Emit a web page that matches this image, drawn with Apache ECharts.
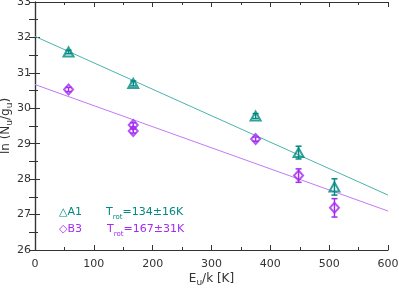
<!DOCTYPE html>
<html><head><meta charset="utf-8">
<script src="https://cdn.jsdelivr.net/npm/echarts@6/dist/echarts.min.js"></script>
<style>html,body{margin:0;padding:0;background:#fff}#c{width:399px;height:288px}</style>
</head><body><div id="c"></div>
<script>
// Data
const a1X = [57, 167, 375, 448, 509];
const a1Y = [31.59, 30.70, 29.78, 28.75, 27.78];
const a1Err = [0.05, 0.07, 0.07, 0.18, 0.23];
const b3X = [57, 167, 167, 375, 448, 509];
const b3Y = [30.53, 29.53, 29.36, 29.13, 28.10, 27.19];
const b3Err = [0.06, 0.06, 0.06, 0.06, 0.19, 0.26];
const fitA1 = [[0, 32.03], [600, 27.55]];
const fitB3 = [[0, 30.67], [600, 27.10]];
const xTicks = [0, 100, 200, 300, 400, 500, 600];
const yTicks = [26, 27, 28, 29, 30, 31, 32, 33];

const TEAL = '#008a80', PURPLE = '#a32cf0';
const TEAL_L = '#48b5ad', PURPLE_L = '#c27af7';
const FONT = 'DejaVu Sans';
const TXT = '#333';

function errSeries(xs, ys, es, color) {
  return {
    type: 'custom', z: 3,
    data: xs.map((x, i) => [x, ys[i], es[i]]),
    renderItem: function (params, api) {
      const x = api.value(0), y = api.value(1), e = api.value(2);
      const lo = api.coord([x, y - e]), hi = api.coord([x, y + e]);
      const w = 3;
      const st = {stroke: color, lineWidth: 1.5};
      return {type: 'group', children: [
        {type: 'line', shape: {x1: lo[0], y1: lo[1], x2: hi[0], y2: hi[1]}, style: st},
        {type: 'line', shape: {x1: lo[0]-w, y1: lo[1], x2: lo[0]+w, y2: lo[1]}, style: st},
        {type: 'line', shape: {x1: hi[0]-w, y1: hi[1], x2: hi[0]+w, y2: hi[1]}, style: st}
      ]};
    }
  };
}

const axisLine = {show: true, lineStyle: {color: TXT, width: 1.2}};
const labelStyle = {color: TXT, fontFamily: FONT, fontSize: 11};
const nameRich = {
  a: {fontFamily: FONT, fontSize: 12, color: TXT},
  s: {fontFamily: FONT, fontSize: 9, color: TXT, verticalAlign: 'bottom', padding: [8, 0, 0, 0]}
};

const chart = echarts.init(document.getElementById('c'), null, {renderer: 'canvas'});
chart.setOption({
  animation: false,
  backgroundColor: '#fff',
  grid: {left: 35, right: 11, top: 2, bottom: 38, containLabel: false, outerBoundsMode: 'none'},
  xAxis: [
    {type: 'value', min: xTicks[0], max: xTicks[xTicks.length-1], interval: 100,
     axisLine: axisLine, splitLine: {show: false},
     axisTick: {inside: true, length: 5, lineStyle: {color: TXT}},
     minorTick: {show: true, splitNumber: 2, length: 3, lineStyle: {color: TXT}},
     axisLabel: Object.assign({margin: 9}, labelStyle),
     name: '{a|E}{s|u}{a|/k [K]}', nameLocation: 'middle', nameGap: 20, nameMoveOverlap: false,
     nameTextStyle: {rich: nameRich}},
    {type: 'value', position: 'top', min: 0, max: 600, interval: 100,
     axisLine: axisLine, splitLine: {show: false}, axisLabel: {show: false},
     axisTick: {inside: true, length: 5, lineStyle: {color: TXT}},
     minorTick: {show: true, splitNumber: 2, length: 3, lineStyle: {color: TXT}}}
  ],
  yAxis: [
    {type: 'value', min: yTicks[0], max: yTicks[yTicks.length-1], interval: 1,
     axisLine: axisLine, splitLine: {show: false},
     axisTick: {inside: true, length: 5, lineStyle: {color: TXT}},
     minorTick: {show: true, splitNumber: 2, length: 3, lineStyle: {color: TXT}},
     axisLabel: Object.assign({margin: 4}, labelStyle),
     name: '{a|ln (N}{s|u}{a|/g}{s|u}{a|)}', nameLocation: 'middle', nameGap: 21, nameRotate: 90,
     nameMoveOverlap: false,
     nameTextStyle: {rich: nameRich}},
    {type: 'value', position: 'right', min: 26, max: 33, interval: 1,
     axisLine: axisLine, splitLine: {show: false}, axisLabel: {show: false},
     axisTick: {inside: true, length: 6, lineStyle: {color: TXT}},
     minorTick: {show: true, splitNumber: 2, length: 6, lineStyle: {color: TXT}}}
  ],
  series: [
    {type: 'line', data: fitA1, showSymbol: false, z: 1, lineStyle: {color: TEAL_L, width: 1}},
    {type: 'line', data: fitB3, showSymbol: false, z: 1, lineStyle: {color: PURPLE_L, width: 1}},
    errSeries(a1X, a1Y, a1Err, TEAL),
    errSeries(b3X, b3Y, b3Err, PURPLE),
    {type: 'scatter', z: 4, data: a1X.map((x, i) => [x, a1Y[i]]), symbol: 'triangle', symbolSize: [10, 9],
     itemStyle: {color: 'rgba(0,0,0,0)', borderColor: TEAL, borderWidth: 2}},
    {type: 'scatter', z: 4, data: b3X.map((x, i) => [x, b3Y[i]]), symbol: 'diamond', symbolSize: [9, 10],
     itemStyle: {color: 'rgba(0,0,0,0)', borderColor: PURPLE, borderWidth: 2}}
  ],
  graphic: [
    {type: 'text', left: 59, top: 207, style: {text: '△A1', fill: TEAL, font: '11px ' + FONT}},
    {type: 'text', left: 106, top: 207, style: {text: '{a|T}{s|rot}{a|=134±16K}',
      rich: {a: {fontFamily: FONT, fontSize: 11, fill: TEAL}, s: {fontFamily: FONT, fontSize: 7, fill: TEAL, verticalAlign: 'bottom', padding: [9, 0, 0, 0]}}}},
    {type: 'text', left: 59, top: 224, style: {text: '◇B3', fill: PURPLE, font: '11px ' + FONT}},
    {type: 'text', left: 107, top: 224, style: {text: '{a|T}{s|rot}{a|=167±31K}',
      rich: {a: {fontFamily: FONT, fontSize: 11, fill: PURPLE}, s: {fontFamily: FONT, fontSize: 7, fill: PURPLE, verticalAlign: 'bottom', padding: [9, 0, 0, 0]}}}}
  ]
});
</script></body></html>
